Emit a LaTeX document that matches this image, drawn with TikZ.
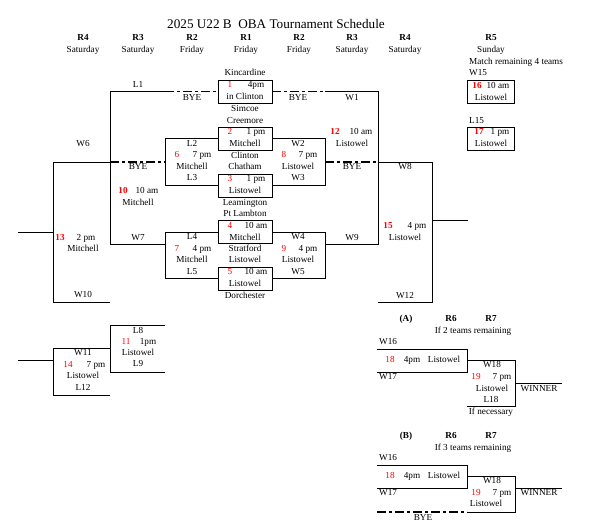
\documentclass[tikz,border=0pt]{standalone}
\usepackage{fontspec}
\setmainfont{Liberation Serif}
\usepackage{xcolor}
\usetikzlibrary{calc}
\tikzset{>=stealth}
\newcommand{\gno}[1]{\textcolor{red}{#1}}
\newcommand{\gnob}[1]{\textcolor{red}{\bfseries #1}}
\tikzset{
  txt/.style={inner sep=0pt, font=\fontsize{9.2}{11}\selectfont, text height=6.5pt, text depth=1.5pt},
  hdr/.style={txt, font=\fontsize{9.2}{11}\selectfont\bfseries},
  gamebox/.style={draw, line width=0.9pt, inner sep=0pt, minimum width=54pt, minimum height=23pt},
  sunbox/.style={gamebox, minimum width=47pt},
  bracket/.style={line width=0.9pt},
  byeline/.style={line width=1.5pt, dash pattern=on 9pt off 3pt on 3pt off 3pt},
}

\begin{document}
\begin{tikzpicture}[x=1pt,y=-1pt]
    \useasboundingbox (0,0) rectangle (592,529);
    \node[inner sep=0pt, font=\fontsize{13.2}{15}\selectfont] (title) at (276,24) {2025 U22 B\ \ OBA Tournament Schedule};
    \foreach \x/\r/\d in {83/R4/Saturday, 138/R3/Saturday, 192/R2/Friday, 246/R1/Friday, 299/R2/Friday, 352/R3/Saturday, 405/R4/Saturday, 491/R5/Sunday} {
      \node[hdr] (round-\x) at (\x,38) {\r};
      \node[txt] (day-\x) at (\x,50) {\d};
    }
    \node[gamebox] (g1) at (245,91.5) {};
    \node[gamebox] (g2) at (245,138.5) {};
    \node[gamebox] (g3) at (245,185.5) {};
    \node[gamebox] (g4) at (245,232) {};
    \node[gamebox] (g5) at (245,278.5) {};
    \foreach \n/\t/\p/\y in {1/4pm/in Clinton/91.5, 2/1 pm/Mitchell/138.5, 3/1 pm/Listowel/185.5, 4/10 am/Mitchell/232, 5/10 am/Listowel/278.5} {
      \node[txt] (g\n-no) at (230,\y-6) {\gno{\n}};
      \node[txt] (g\n-time) at (256,\y-6) {\t};
      \node[txt] (g\n-site) at (245,\y+6) {\p};
    }
    \foreach \y/\t [count=\i] in {73/Kincardine, 109/Simcoe, 121/Creemore, 156/Clinton, 167/Chatham, 203/Leamington, 214/Pt Lambton, 249/Stratford, 260/Listowel, 296/Dorchester}
      \node[txt] (team\i) at (245,\y) {\t};

    \draw[bracket] (g2.west) -- (165,138.5) -- (165,185.5) -- (g3.west);
    \draw[bracket] (g4.west) -- (165,232) -- (165,278.5) -- (g5.west);
    \draw[bracket] (g2.east) -- (325,138.5) -- (325,185.5) -- (g3.east);
    \draw[bracket] (g4.east) -- (325,232) -- (325,278.5) -- (g5.east);
    \foreach \cx/\nx/\tx/\y/\a/\n/\t/\s/\b in {192/177/202/138.5/L2/6/7 pm/Mitchell/L3, 192/177/202/232/L4/7/4 pm/Mitchell/L5, 298/284/308/138.5/W2/8/7 pm/Listowel/W3, 298/284/308/232/W4/9/4 pm/Listowel/W5} {
      \node[txt] (m\n-a) at (\cx,\y+5.5) {\a};
      \node[txt] (m\n-no) at (\nx,\y+17) {\gno{\n}};
      \node[txt] (m\n-time) at (\tx,\y+17) {\t};
      \node[txt] (m\n-site) at (\cx,\y+28.5) {\s};
      \node[txt] (m\n-b) at (\cx,\y+40) {\b};
    }

    \draw[byeline] (165,91.5) -- (g1.west);
    \draw[bracket] (165,91.5) -- (110,91.5) -- (110,244) -- (165,244);
    \draw[byeline] (110,162) -- (165,162);
    \draw[bracket] (110,162) -- (53,162) -- (53,302) -- (110,302);
    \draw[bracket] (18,232) -- (53,232);
    \path (138,85) node[txt] (l1) {L1}
          (192,98) node[txt] (bye-l2) {BYE}
          (138,167) node[txt] (bye-l3) {BYE}
          (123,191) node[txt] (m10-no) {\gnob{10}}
          (147,191) node[txt] (m10-time) {10 am}
          (138,203) node[txt] (m10-site) {Mitchell}
          (138,238) node[txt] (w7) {W7}
          (83,144) node[txt] (w6) {W6}
          (60,238) node[txt] (m13-no) {\gnob{13}}
          (86,238) node[txt] (m13-time) {2 pm}
          (83,249) node[txt] (m13-site) {Mitchell}
          (83,295) node[txt] (w10) {W10};

    \draw[byeline] (g1.east) -- (325,91.5);
    \draw[bracket] (325,91.5) -- (378,91.5) -- (378,244) -- (325,244);
    \draw[byeline] (325,162) -- (378,162);
    \draw[bracket] (378,162) -- (432,162) -- (432,302) -- (378,302);
    \draw[bracket] (432,220) -- (468,220);
    \path (298,98) node[txt] (bye-r2) {BYE}
          (352,98) node[txt] (w1) {W1}
          (335,132) node[txt] (m12-no) {\gnob{12}}
          (361,132) node[txt] (m12-time) {10 am}
          (352,144) node[txt] (m12-site) {Listowel}
          (352,167) node[txt] (bye-r3) {BYE}
          (352,238) node[txt] (w9) {W9}
          (405,167) node[txt] (w8) {W8}
          (388,226) node[txt] (m15-no) {\gnob{15}}
          (417,226) node[txt] (m15-time) {4 pm}
          (405,238) node[txt] (m15-site) {Listowel}
          (405,296) node[txt] (w12) {W12};

    \node[txt, anchor=west] (r5note) at (469,62) {Match remaining 4 teams};
    \node[sunbox] (g16) at (490.5,91.5) {};
    \node[sunbox] (g17) at (490.5,139) {};
    \path (469,73) node[txt, anchor=west] (w15) {W15}
          (477,86) node[txt] (g16-no) {\gnob{16}}
          (498,86) node[txt] (g16-time) {10 am}
          (491,98) node[txt] (g16-site) {Listowel}
          (469,121) node[txt, anchor=west] (l15) {L15}
          (479,132) node[txt] (g17-no) {\gnob{17}}
          (500,132) node[txt] (g17-time) {1 pm}
          (491,144) node[txt] (g17-site) {Listowel};

    \draw[bracket] (165,325) -- (110,325) -- (110,372) -- (165,372);
    \draw[bracket] (110,348.5) -- (53,348.5) -- (53,395) -- (110,395);
    \draw[bracket] (18,360) -- (53,360);
    \path (138,331) node[txt] (l8) {L8}
          (126,342) node[txt] (m11-no) {\gno{11}}
          (148,342) node[txt] (m11-time) {1pm}
          (138,353) node[txt] (m11-site) {Listowel}
          (138,364) node[txt] (l9) {L9}
          (83,353) node[txt] (w11) {W11}
          (68,365) node[txt] (m14-no) {\gno{14}}
          (96,365) node[txt] (m14-time) {7 pm}
          (83,376) node[txt] (m14-site) {Listowel}
          (83,388) node[txt] (l12) {L12};

    \foreach \y/\s/\k/\t in {319/A/2/0, 436/B/3/116} {
      \node[hdr] (head\s) at (406,\y) {(\s)};
      \node[hdr] (r6\s) at (451,\y) {R6};
      \node[hdr] (r7\s) at (491,\y) {R7};
      \node[txt] (if\s) at (473,\y+12) {If \k\ teams remaining};
      \node[txt, anchor=west] (w16\s) at (379,342+\t) {W16};
      \node[txt, anchor=west] (w17\s) at (379,377+\t) {W17};
      \draw[bracket] (377,349+\t) -- (467,349+\t) -- (467,372+\t) -- (377,372+\t);
      \node[txt] (g18no\s) at (390,360+\t) {\gno{18}};
      \node[txt] (g18time\s) at (412,360+\t) {4pm};
      \node[txt] (g18site\s) at (444,360+\t) {Listowel};
      \node[txt] (w18\s) at (492,365+\t) {W18};
      \node[txt] (g19no\s) at (476,377+\t) {\gno{19}};
      \node[txt] (g19time\s) at (502,377+\t) {7 pm};
    }
    \draw[bracket] (467,360) -- (515,360) -- (515,406) -- (467,406);
    \draw[bracket] (515,383) -- (562,383);
    \path (492,389) node[txt] (g19siteA) {Listowel}
          (491,400) node[txt] (l18) {L18}
          (491,412) node[txt] (ifnec) {If necessary}
          (539,389) node[txt] (winA) {WINNER};
    \draw[bracket] (467,476) -- (515,476) -- (515,512) -- (467,512);
    \draw[byeline] (377,512) -- (467,512);
    \draw[bracket] (515,488) -- (562,488);
    \path (486,504) node[txt] (g19siteB) {Listowel}
          (539,493) node[txt] (winB) {WINNER}
          (423,518) node[txt] (bye-b) {BYE};
\end{tikzpicture}
\end{document}
